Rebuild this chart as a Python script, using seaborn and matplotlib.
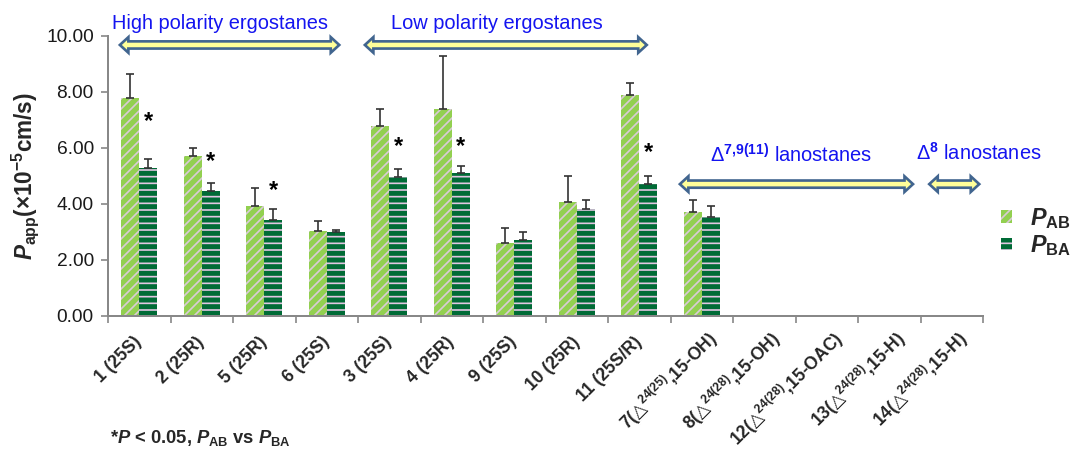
import numpy as np
import pandas as pd
import matplotlib
matplotlib.use("Agg")
import matplotlib.pyplot as plt
import seaborn as sns
from matplotlib.patches import Polygon, Patch, Rectangle
from matplotlib.transforms import IdentityTransform, ScaledTranslation

# ---------------- data ----------------
compounds = ["1", "2", "5", "6", "3", "4", "9", "10", "11", "7", "8", "12", "13", "14"]
tick_labels = [
    "1 (25S)", "2 (25R)", "5 (25R)", "6 (25S)", "3 (25S)", "4 (25R)",
    "9 (25S)", "10 (25R)", "11 (25S/R)",
    "7($\\mathsf{△}^{\\mathrm{24(25)}}$,15-OH)",
    "8($\\mathsf{△}^{\\mathrm{24(28)}}$,15-OH)",
    "12($\\mathsf{△}^{\\mathrm{24(28)}}$,15-OAC)",
    "13($\\mathsf{△}^{\\mathrm{24(28)}}$,15-H)",
    "14($\\mathsf{△}^{\\mathrm{24(28)}}$,15-H)",
]
pab = [7.77, 5.71, 3.93, 3.04, 6.79, 7.38, 2.61, 4.07, 7.89, 3.70, None, None, None, None]
pab_err = [0.87, 0.28, 0.65, 0.35, 0.60, 1.92, 0.54, 0.94, 0.43, 0.44, None, None, None, None]
pba = [5.30, 4.45, 3.43, 3.00, 4.95, 5.10, 2.71, 3.82, 4.71, 3.52, None, None, None, None]
pba_err = [0.31, 0.31, 0.38, 0.06, 0.31, 0.27, 0.30, 0.33, 0.29, 0.42, None, None, None, None]
star_y = [6.94, 5.50, 4.47, None, 6.05, 6.07, None, None, 5.83, None, None, None, None, None]
series = ["PAB", "PBA"]
yticks = [0, 2, 4, 6, 8, 10]

# group annotations: (label, text x, text y, arrow x0, arrow x1, arrow y)
groups = [
    ("High polarity ergostanes", 1.29, 10.46, -0.31, 3.20, 9.68),
    ("Low polarity ergostanes", 5.72, 10.46, 3.61, 8.12, 9.68),
    ("Δ$^{\\mathrm{7{,}9(11)}}$ lanostanes", 10.43, 5.75, 8.65, 12.38, 4.71),
    ("Δ$^{\\mathrm{8}}$ lanostanes", 13.44, 5.82, 12.64, 13.44, 4.71),
]

# ---------------- style ----------------
sns.set_style("white")
plt.rcParams["font.family"] = ["Liberation Sans", "DejaVu Sans"]
plt.rcParams["mathtext.fontset"] = "custom"
plt.rcParams["mathtext.rm"] = "Liberation Sans:bold"
plt.rcParams["mathtext.it"] = "Liberation Sans:italic:bold"
plt.rcParams["mathtext.bf"] = "Liberation Sans:bold"
plt.rcParams["mathtext.sf"] = "DejaVu Sans"
plt.rcParams["hatch.linewidth"] = 1.0

c_ab, c_ab_stripe = "#92D050", "#D9CBD6"
c_ba, c_ba_stripe = "#006B36", "#E2C6E2"

rows = []
for s, vals in zip(series, [pab, pba]):
    for c, v in zip(compounds, vals):
        if v is not None:
            rows.append({"compound": c, "value": v, "series": s})
df = pd.DataFrame(rows)

fig = plt.figure(figsize=(1077 / 120, 454 / 120), dpi=120)
ax = fig.add_axes([108 / 1077, 1 - 316 / 454, 875 / 1077, 280 / 454])

sns.barplot(data=df, x="compound", y="value", hue="series", order=compounds,
            hue_order=series, palette=[c_ab, c_ba], width=0.57, saturation=1,
            errorbar=None, legend=False, ax=ax)

styles = {c_ab: (c_ab_stripe, "////", 0), c_ba: (c_ba_stripe, "---", 1)}
errs = [pab_err, pba_err]
bars = [p for p in ax.patches if isinstance(p, Rectangle)]
pts = {0: ([], [], []), 1: ([], [], [])}
for bar in bars:
    fc = matplotlib.colors.to_hex(bar.get_facecolor())
    key = c_ab if fc.lower() == c_ab.lower() else c_ba
    stripe, hatch, k = styles[key]
    bar.set_edgecolor(stripe)
    bar.set_hatch(hatch)
    bar.set_linewidth(0)
    xc = bar.get_x() + bar.get_width() / 2
    idx = int(round(xc))
    pts[k][0].append(xc)
    pts[k][1].append(bar.get_height())
    pts[k][2].append(errs[k][idx])
    if k == 1 and star_y[idx] is not None:
        ax.text(xc, star_y[idx], "*", ha="center", va="center",
                fontsize=14, fontweight="bold", color="black")
for k in (0, 1):
    xs, tops, ee = pts[k]
    ax.errorbar(xs, tops, yerr=[np.zeros(len(ee)), ee], fmt="none",
                ecolor="#333333", elinewidth=1.0, capsize=2.2, capthick=1.0,
                zorder=3)

# axes
ax.set_xlim(-0.5, len(compounds) - 0.5)
ax.set_ylim(0, 10)
ax.set_yticks(yticks)
ax.set_yticklabels([f"{v:.2f}" for v in yticks], fontsize=11.5, color="#1a1a1a")
ax.set_xticks(range(len(compounds)))
ax.set_xticklabels(tick_labels, rotation=45, ha="right", va="center",
                   rotation_mode="anchor", fontsize=10.5, fontweight="bold")
ax.set_xticks(np.arange(-0.5, len(compounds), 1), minor=True)
ax.tick_params(axis="x", which="major", length=0, pad=14)
ax.tick_params(axis="x", which="minor", length=4, width=1.0, color="#888888",
               direction="out", bottom=True)
ax.tick_params(axis="y", length=4.5, width=1.0, color="#888888",
               direction="out", left=True, pad=4)
# labels carrying superscripts sit a little further along the diagonal
shift = ScaledTranslation(13 / 120, 4 / 120, fig.dpi_scale_trans)
for lab in ax.get_xticklabels():
    if "$" in lab.get_text():
        lab.set_transform(lab.get_transform() + shift)

ax.set_xlabel("")
ax.set_ylabel("$P_{\\mathbf{app}}$(×10$^{\\mathrm{-5}}$cm/s)", fontsize=13.5,
              fontweight="bold", labelpad=3)
for sp in ["top", "right"]:
    ax.spines[sp].set_visible(False)
for sp in ["left", "bottom"]:
    ax.spines[sp].set_color("#888888")
    ax.spines[sp].set_linewidth(1.2)

# group arrows & labels
def double_arrow(x0, x1, y):
    (X0, Y), (X1, _) = ax.transData.transform([(x0, y), (x1, y)])
    sh, hw, hl = 3.6, 7.8, 8.5
    verts = [(X0, Y), (X0 + hl, Y + hw), (X0 + hl, Y + sh), (X1 - hl, Y + sh),
             (X1 - hl, Y + hw), (X1, Y), (X1 - hl, Y - hw), (X1 - hl, Y - sh),
             (X0 + hl, Y - sh), (X0 + hl, Y - hw)]
    fig.add_artist(Polygon(verts, closed=True, transform=IdentityTransform(),
                           fc="#FFFF99", ec="#41658F", lw=1.6, joinstyle="miter"))

for label, tx, ty, ax0, ax1, ay in groups:
    ax.text(tx, ty, label, ha="center", va="center", fontsize=12,
            color="#1414F0", clip_on=False)
    double_arrow(ax0, ax1, ay)

# legend
handles = [Patch(facecolor=c_ab, edgecolor=c_ab_stripe, hatch="////", lw=0),
           Patch(facecolor=c_ba, edgecolor=c_ba_stripe, hatch="---", lw=0)]
fig.legend(handles, ["$P_{\\mathbf{AB}}$", "$P_{\\mathbf{BA}}$"],
           loc="center left", bbox_to_anchor=(1001 / 1077, 1 - 232 / 454),
           frameon=False, fontsize=14, handlelength=0.45, handleheight=0.45,
           handletextpad=0.8, labelspacing=0.1, borderpad=0, borderaxespad=0)

# footnote
fig.text(110 / 1077, 1 - 438 / 454,
         "*$P$ < 0.05, $P_{\\mathbf{AB}}$ vs $P_{\\mathbf{BA}}$",
         ha="left", va="center", fontsize=11, fontweight="bold")

fig.savefig("out.png", dpi=120)
